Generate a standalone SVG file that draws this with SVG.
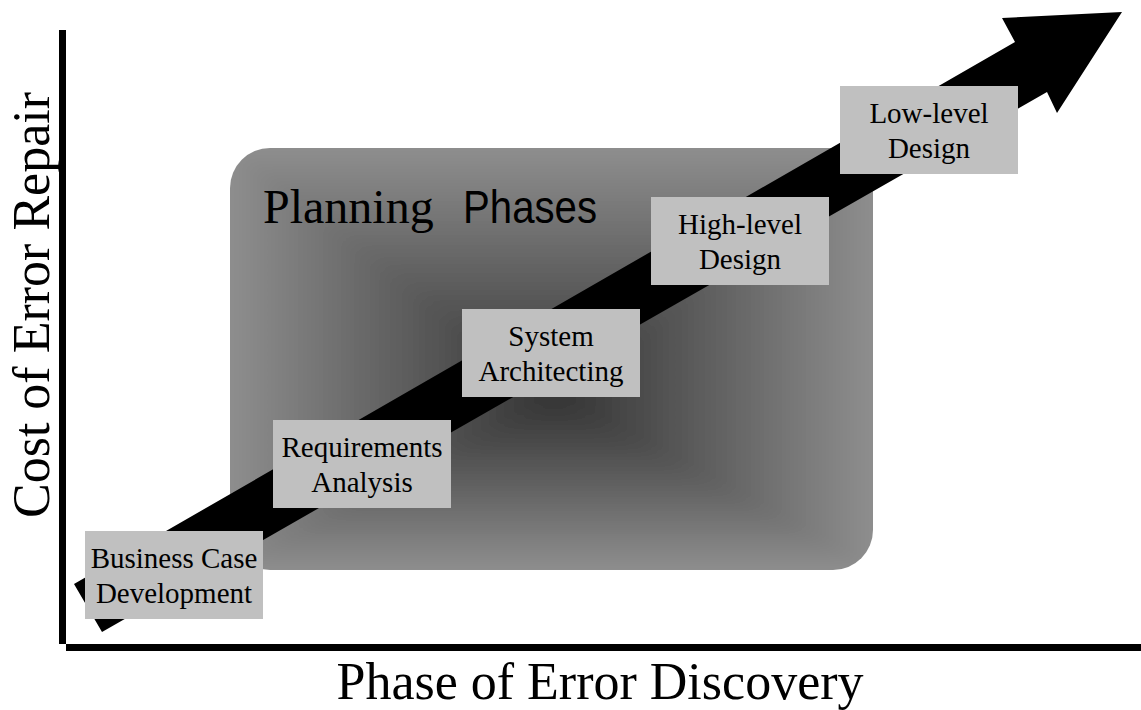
<svg xmlns="http://www.w3.org/2000/svg" width="1141" height="710" viewBox="0 0 1141 710">
  <style>
    .box { fill: #c0c0c0; }
    .lbl { font-family: "Liberation Serif", "Times New Roman", serif; font-size: 29px; fill: #000; text-anchor: middle; }
    .axis { font-family: "Liberation Serif", "Times New Roman", serif; font-size: 52px; fill: #000; text-anchor: middle; }
    .ttl-serif { font-family: "Liberation Serif", "Times New Roman", serif; font-size: 48px; fill: #000; }
    .ttl-sans { font-family: "Liberation Sans Narrow", "Liberation Sans", Arial, sans-serif; font-size: 46px; fill: #000; }
    .ax { fill: #000; }
  </style>
  <defs>
    <linearGradient id="gT" gradientUnits="userSpaceOnUse" x1="555" y1="400" x2="555" y2="148">
      <stop offset="0" stop-color="#333"/><stop offset="1" stop-color="#8e8e8e"/>
    </linearGradient>
    <linearGradient id="gB" gradientUnits="userSpaceOnUse" x1="555" y1="400" x2="555" y2="570">
      <stop offset="0" stop-color="#333"/><stop offset="1" stop-color="#8e8e8e"/>
    </linearGradient>
    <linearGradient id="gL" gradientUnits="userSpaceOnUse" x1="555" y1="400" x2="230" y2="400">
      <stop offset="0" stop-color="#333"/><stop offset="1" stop-color="#8e8e8e"/>
    </linearGradient>
    <linearGradient id="gR" gradientUnits="userSpaceOnUse" x1="555" y1="400" x2="873" y2="400">
      <stop offset="0" stop-color="#333"/><stop offset="1" stop-color="#8e8e8e"/>
    </linearGradient>
    <filter id="soft" x="-10%" y="-10%" width="120%" height="120%">
      <feGaussianBlur stdDeviation="7"/>
    </filter>
    <clipPath id="rr">
      <rect x="230" y="148" width="643" height="422" rx="40" ry="40"/>
    </clipPath>
  </defs>

  <!-- Planning phases region -->
  <g id="planning-phases">
    <g clip-path="url(#rr)">
      <g filter="url(#soft)">
        <rect x="190" y="110" width="720" height="500" fill="#8e8e8e"/>
        <polygon points="555,400 230,148 873,148" fill="url(#gT)"/>
        <polygon points="555,400 873,570 230,570" fill="url(#gB)"/>
        <polygon points="555,400 230,570 230,148" fill="url(#gL)"/>
        <polygon points="555,400 873,148 873,570" fill="url(#gR)"/>
      </g>
    </g>
  </g>

  <!-- Axes -->
  <g id="axes">
    <rect class="ax" x="59" y="30" width="7" height="614"/>
    <rect class="ax" x="66" y="644" width="1075" height="7"/>
    <text class="axis" x="600" y="699">Phase of Error Discovery</text>
    <text class="axis" transform="translate(49,305) rotate(-90)">Cost of Error Repair</text>
  </g>

  <!-- Connector: big arrow -->
  <g id="connectors">
    <polygon points="74,584 1015,42 1002,18 1122,12 1057,113 1047,92 102,632" fill="#000"/>
  </g>

  <g id="planning-title">
    <text class="ttl-serif" x="263" y="223">Planning</text>
    <text class="ttl-sans" x="463" y="223" textLength="134" lengthAdjust="spacingAndGlyphs">Phases</text>
  </g>

  <g id="business-case">
    <rect class="box" x="85" y="531" width="178" height="88"/>
    <text class="lbl" x="174" y="568">Business Case</text>
    <text class="lbl" x="174" y="603">Development</text>
  </g>
  <g id="requirements">
    <rect class="box" x="273" y="420" width="178" height="88"/>
    <text class="lbl" x="362" y="457">Requirements</text>
    <text class="lbl" x="362" y="492">Analysis</text>
  </g>
  <g id="system-architecting">
    <rect class="box" x="462" y="309" width="178" height="88"/>
    <text class="lbl" x="551" y="346">System</text>
    <text class="lbl" x="551" y="381">Architecting</text>
  </g>
  <g id="high-level">
    <rect class="box" x="651" y="197" width="178" height="88"/>
    <text class="lbl" x="740" y="234">High-level</text>
    <text class="lbl" x="740" y="269">Design</text>
  </g>
  <g id="low-level">
    <rect class="box" x="840" y="86" width="178" height="88"/>
    <text class="lbl" x="929" y="123">Low-level</text>
    <text class="lbl" x="929" y="158">Design</text>
  </g>
</svg>
